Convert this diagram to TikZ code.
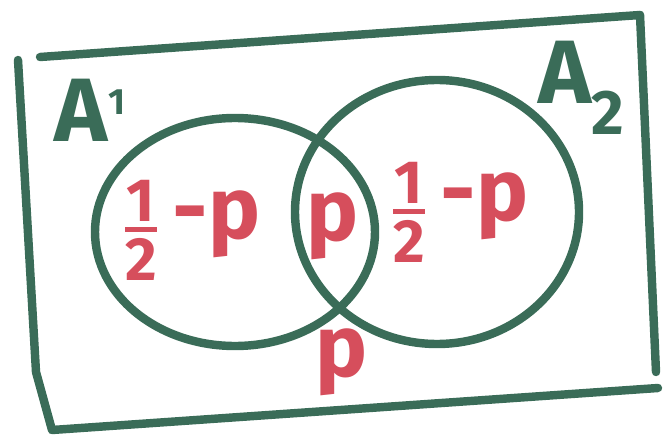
\documentclass[tikz,border=0pt]{standalone}
\usepackage{amsmath}
\usepackage{fontspec}
\setmainfont{Fira Sans}
\usepackage{xcolor}
\usetikzlibrary{positioning}

\definecolor{markergreen}{RGB}{58,108,88}
\definecolor{markerred}{RGB}{214,78,92}

\newcommand{\half}{$\genfrac{}{}{4pt}{}{\mathbf{1}}{\mathbf{2}}$}

\begin{document}
\begin{tikzpicture}[
    x=0.025cm, y=-0.025cm,
    frame/.style={draw=markergreen, line width=6pt, line cap=round, line join=round},
    setline/.style={draw=markergreen, line width=6pt},
    setname/.style={text=markergreen, font=\fontsize{64}{64}\selectfont\bfseries},
    prob/.style={text=markerred, inner sep=0pt, font=\fontsize{62}{62}\selectfont\bfseries}
]
\useasboundingbox (0,0) rectangle (663,439);

% Sample space
\coordinate (tl) at (40,57);
\coordinate (tr) at (640,15);
\coordinate (rb) at (656,372);
\coordinate (bl) at (52,430);
\coordinate (br) at (658,388);
\draw[frame] (tl) -- (tr);
\draw[frame] (tr) -- (rb);
\draw[frame] (18,60) -- (36,372) -- (bl) -- (br);

% Events
\draw[setline] (235,232) ellipse [x radius=140, y radius=114];
\draw[setline] (437,212) ellipse [x radius=142, y radius=132];

% Names
\node[setname] (a1) at (90,110) {A\raisebox{0.3em}{\fontsize{26}{26}\selectfont 1}};
\node[setname] (a2) at (582,88) {A$_{\mathbf{2}}$};

% Probabilities
\node[prob] (left) at (192,230) {\half\,-p};
\node[prob] (mid) at (333,226) {p};
\node[prob] (right) at (460,212) {\half\,-p};
\node[prob] (outside) at (342,362) {p};

\end{tikzpicture}
\end{document}
